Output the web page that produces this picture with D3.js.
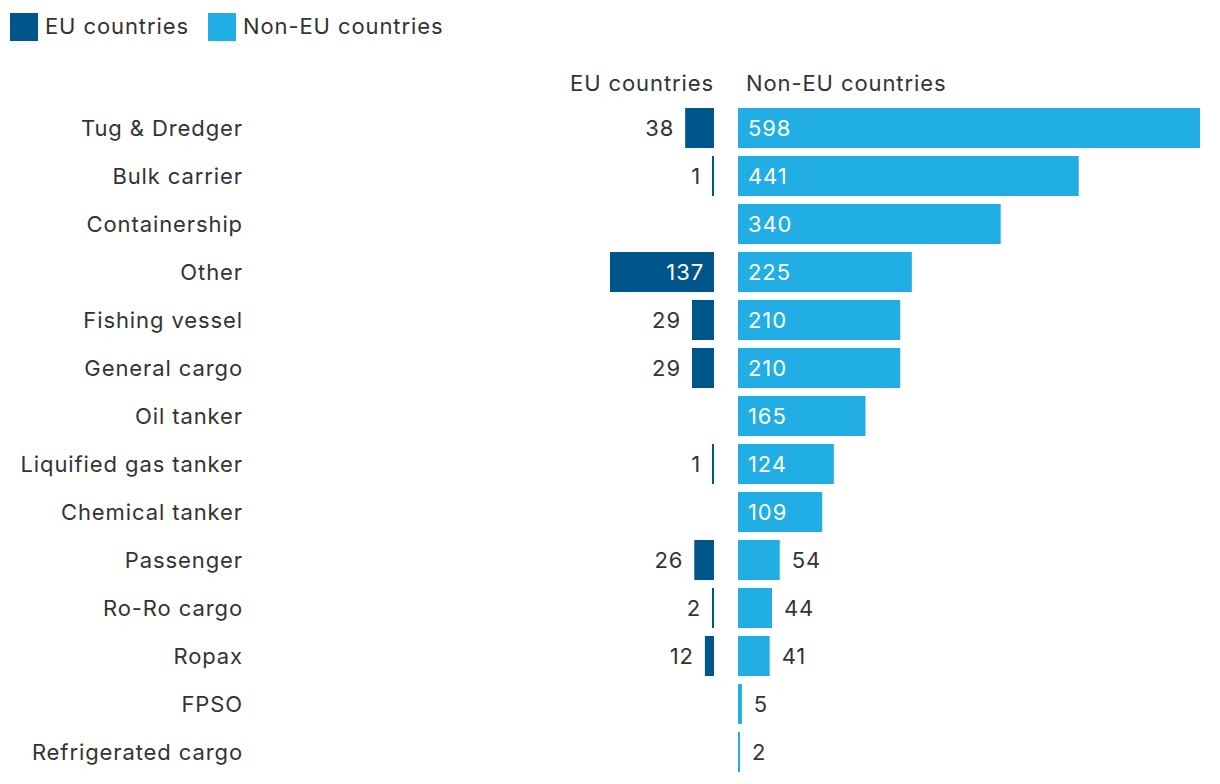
<!DOCTYPE html>
<html><head><meta charset="utf-8">
<script src="https://cdn.jsdelivr.net/npm/d3@7"></script>
<style>body{margin:0;background:#fff;} svg text{font-family:Inter,"Noto Sans",sans-serif;letter-spacing:0.9px;}</style>
</head><body>
<svg id="c" width="1220" height="784"></svg>
<script>
const categories = ["Tug & Dredger","Bulk carrier","Containership","Other","Fishing vessel","General cargo","Oil tanker","Liquified gas tanker","Chemical tanker","Passenger","Ro-Ro cargo","Ropax","FPSO","Refrigerated cargo"];
const euValues = [38,1,null,137,29,29,null,1,null,26,2,12,null,null];
const nonEuValues = [598,441,340,225,210,210,165,124,109,54,44,41,5,2];
const seriesNames = ["EU countries","Non-EU countries"];
const colors = ["#00558a","#21aee5"];
const textColor = "#333333";

const svg = d3.select("#c");
const fs = 22;

// legend
const leg = svg.append("g");
const legX = [10, 208];
seriesNames.forEach((n,i)=>{
  leg.append("rect").attr("x",legX[i]).attr("y",13).attr("width",28).attr("height",28).attr("fill",colors[i]);
  leg.append("text").attr("x",legX[i]+35).attr("y",26).attr("dy","0.35em").attr("font-size",fs).attr("fill",textColor).text(n);
});

const y = d3.scaleBand().domain(categories).range([104,776]).paddingInner(1/6).paddingOuter(1/12);
const center = 714, gap = 24;
const xEu = d3.scaleLinear().domain([0,137]).range([0,104]);
const xNon = d3.scaleLinear().domain([0,598]).range([0,462]);
const nonStart = center + gap;

// column headers
svg.append("text").attr("x",center).attr("y",83).attr("dy","0.35em").attr("text-anchor","end").attr("font-size",fs).attr("fill",textColor).text(seriesNames[0]);
svg.append("text").attr("x",nonStart+8).attr("y",83).attr("dy","0.35em").attr("font-size",fs).attr("fill",textColor).text(seriesNames[1]);

// category labels
svg.append("g").selectAll("text").data(categories).join("text")
  .attr("x",243).attr("y",d=>y(d)+y.bandwidth()/2).attr("dy","0.35em")
  .attr("text-anchor","end").attr("font-size",fs).attr("fill",textColor).text(d=>d);

const minW = 2;
const euData = categories.map((c,i)=>({c,v:euValues[i]})).filter(d=>d.v!=null);
const nonData = categories.map((c,i)=>({c,v:nonEuValues[i]}));

const gEu = svg.append("g");
gEu.selectAll("rect").data(euData).join("rect")
  .attr("x",d=>center-Math.max(minW,xEu(d.v))).attr("width",d=>Math.max(minW,xEu(d.v)))
  .attr("y",d=>y(d.c)).attr("height",y.bandwidth()).attr("fill",colors[0]);
gEu.selectAll("text").data(euData).join("text")
  .attr("y",d=>y(d.c)+y.bandwidth()/2).attr("dy","0.35em").attr("font-size",fs).attr("text-anchor","end")
  .attr("x",d=>{const w=Math.max(minW,xEu(d.v)); return w>60? center-10 : center-w-11;})
  .attr("fill",d=>xEu(d.v)>60?"#ffffff":textColor).text(d=>d.v);

const gNon = svg.append("g");
gNon.selectAll("rect").data(nonData).join("rect")
  .attr("x",nonStart).attr("width",d=>Math.max(minW,xNon(d.v)))
  .attr("y",d=>y(d.c)).attr("height",y.bandwidth()).attr("fill",colors[1]);
gNon.selectAll("text").data(nonData).join("text")
  .attr("y",d=>y(d.c)+y.bandwidth()/2).attr("dy","0.35em").attr("font-size",fs)
  .attr("x",d=>{const w=Math.max(minW,xNon(d.v)); return w>60? nonStart+10 : nonStart+w+12;})
  .attr("fill",d=>xNon(d.v)>60?"#ffffff":textColor).text(d=>d.v);
</script>
</body></html>
